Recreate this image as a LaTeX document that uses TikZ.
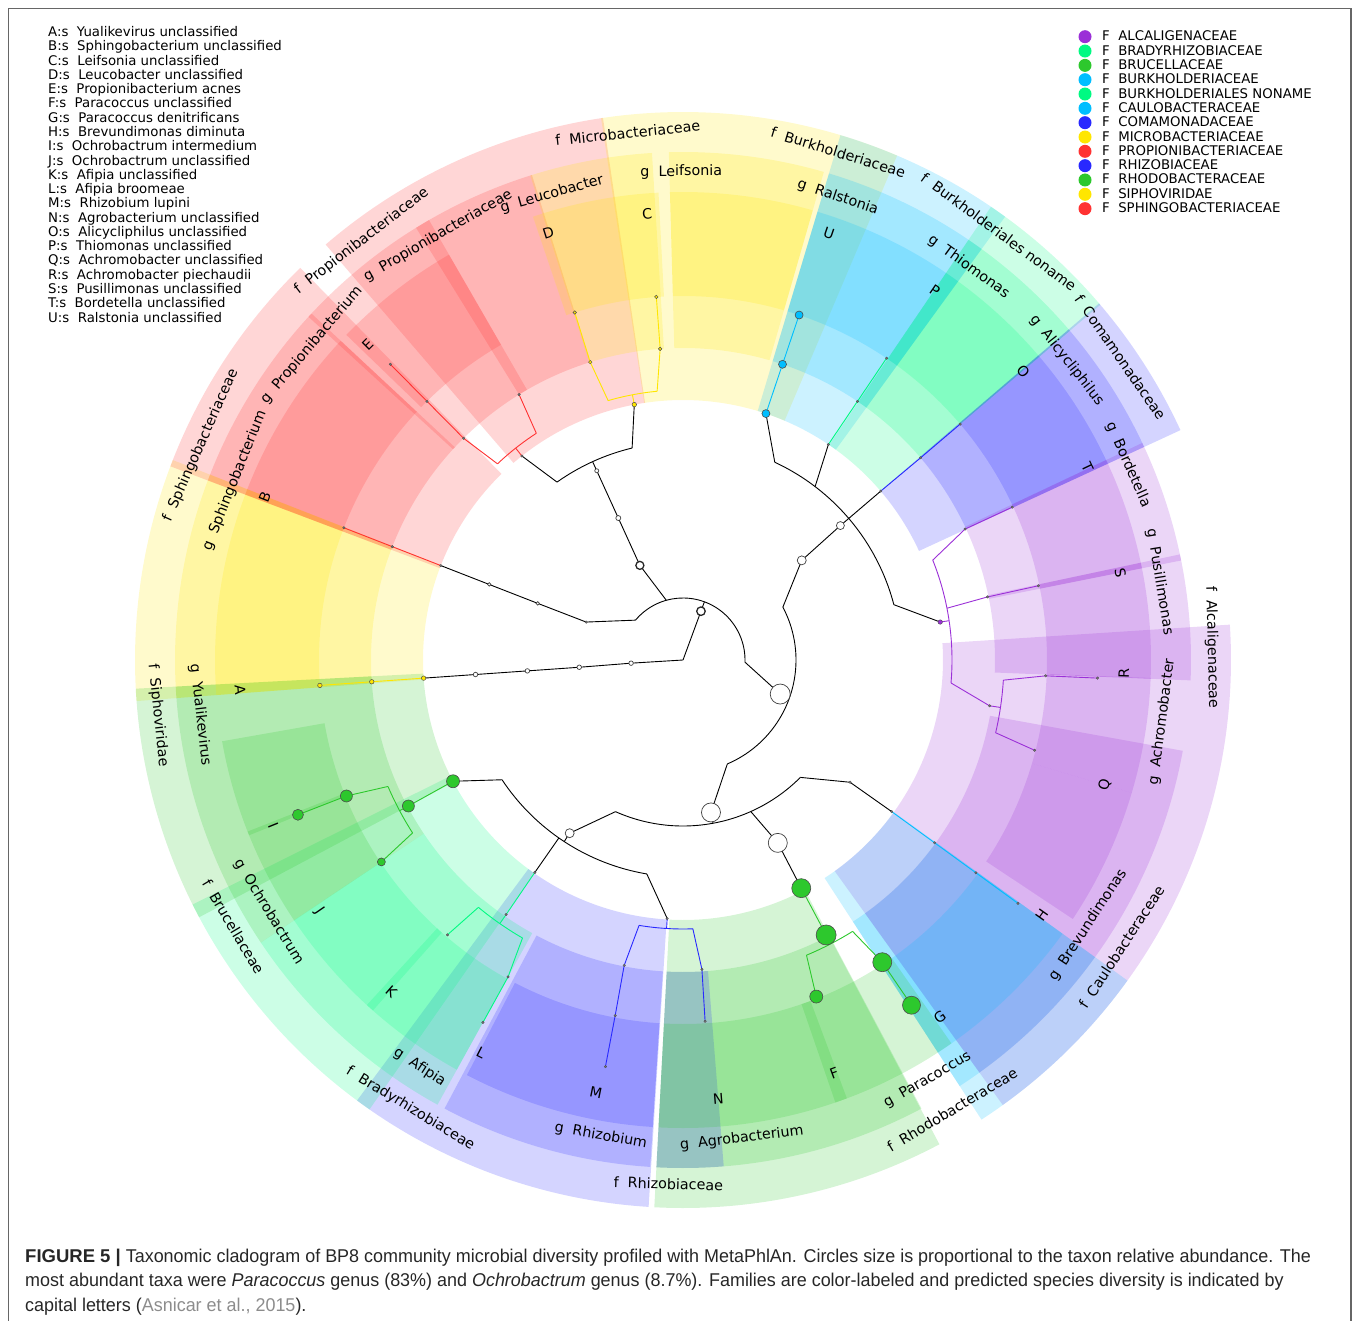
\documentclass[tikz,border=0pt]{standalone}
\usepackage{fontspec}
\setmainfont{DejaVu Sans}
\newfontfamily\capfont[FakeStretch=0.97]{Liberation Sans}
\newfontfamily\capbold{Liberation Sans Bold}
\pgfdeclarelayer{wedges}
\pgfdeclarelayer{lines}
\pgfsetlayers{wedges,lines,main}
\definecolor{cR}{RGB}{255,50,50}
\definecolor{cY}{RGB}{255,230,0}
\definecolor{cG}{RGB}{45,200,45}
\definecolor{cM}{RGB}{0,250,130}
\definecolor{cC}{RGB}{0,190,255}
\definecolor{cB}{RGB}{40,40,255}
\definecolor{cP}{RGB}{155,48,215}
\newcommand\wdg[5]{\fill[#1,fill opacity=0.2] (#4:#2pt) arc[start angle=#4,end angle=#5,radius=#2pt] -- (#5:#3pt) arc[start angle=#5,end angle=#4,radius=#3pt] -- cycle;}
\newcommand\fw[3]{\wdg{#1}{260}{548}{#2}{#3}}
\newcommand\gw[3]{\wdg{#1}{312}{508}{#2}{#3}}
\newcommand\sw[3]{\wdg{#1}{364}{468}{#2}{#3}}
\newcommand\rlab[4]{\node[lbl] (#1) at (#2:#3pt) [rotate={ifthenelse(#2>0,#2-90,#2+90)}] {#4};}
\begin{document}
\begin{tikzpicture}[x=1pt,y=1pt,
  lbl/.style={font=\fontsize{14.3}{16}\selectfont, inner sep=0pt},
  br/.style={line width=0.9pt},
  wc/.style={circle,draw=black!75,fill=white,inner sep=0pt,line width=0.7pt,minimum size=#1},
  wct/.style={circle,draw=black!85,fill=white,inner sep=0pt,line width=1.3pt,minimum size=#1},
  td/.style={circle,draw=black!70,fill=black!55,inner sep=0pt,line width=0.3pt,minimum size=2.6pt},
  yd/.style={circle,draw=black!70,fill=cY,inner sep=0pt,line width=0.5pt,minimum size=#1},
  cd/.style={circle,draw=black!70,fill=cC,inner sep=0pt,line width=0.6pt,minimum size=#1},
  gd/.style={circle,draw=black!70,fill=cG,inner sep=0pt,line width=0.6pt,minimum size=#1},
  pd/.style={circle,draw=black!70,fill=cP,inner sep=0pt,line width=0.4pt,minimum size=#1},
  legtxt/.style={anchor=base west,inner sep=0pt,font=\fontsize{13.3}{15}\selectfont},
  captxt/.style={anchor=base west,inner sep=0pt,font=\capfont\fontsize{18.5}{22}\selectfont,text=black!85}]
\useasboundingbox (0,0) rectangle (1358,-1321);
\draw[black!60,line width=1.2pt] (8.5,-1322) -- (8.5,-8.5) -- (1351,-8.5) -- (1351,-1322);

\begin{scope}[shift={(683,-660)}]
\begin{pgfonlayer}{wedges}
% families
\fw{cY}{158.6}{184.3}
\fw{cR}{134.3}{159.3}
\fw{cR}{98.4}{130.7}
\fw{cY}{67}{98.6}
\fw{cC}{54}{73.3}
\fw{cM}{40.4}{55.8}
\fw{cB}{24.8}{40.6}
\fw{cP}{-54.3}{3.7}
\fw{cC}{-57}{-35.8}
\fw{cG}{-93}{-62.1}
\fw{cB}{-126.5}{-93.6}
\fw{cM}{-153.5}{-124.9}
\fw{cG}{-177}{-152}
% genera
\gw{cY}{158.6}{184.3}
\gw{cR}{137}{159.3}
\gw{cR}{120}{137.5}
\gw{cR}{107.3}{121.7}
\gw{cY}{93.5}{107.5}
\gw{cY}{73.9}{91.6}
\gw{cC}{54}{73.3}
\gw{cM}{40.4}{55.8}
\gw{cB}{24.8}{40.6}
\gw{cP}{11.3}{25.3}
\gw{cP}{-2.3}{12}
\gw{cP}{-54.3}{-10.3}
\gw{cC}{-57}{-35.8}
\gw{cG}{-93}{-62}
\gw{cB}{-93}{-85.4}
\gw{cB}{-118}{-93.7}
\gw{cM}{-146.2}{-118.9}
\gw{cG}{-177}{-146.2}
% species
\sw{cY}{158.6}{184.3}
\sw{cR}{137}{159.3}
\sw{cR}{120}{136}
\sw{cY}{93}{108.7}
\sw{cY}{73.9}{91.6}
\sw{cC}{54}{73.3}
\sw{cM}{40.4}{55.8}
\sw{cB}{24.8}{40.6}
\sw{cP}{11.3}{25.3}
\sw{cP}{-2.3}{12}
\sw{cP}{-16.5}{-2.2}
\sw{cP}{-33.6}{-16.5}
\sw{cC}{-57}{-35.8}
\sw{cG}{-71}{-55}
\sw{cG}{-93}{-69.5}
\sw{cB}{-117.5}{-93.7}
\sw{cM}{-132.5}{-118.9}
\sw{cM}{-146.2}{-131.5}
\sw{cG}{-158.5}{-146.2}
\sw{cG}{-170}{-158}
\end{pgfonlayer}

% ---------- tree nodes ----------
\coordinate (root) at (0,0);
\node[wc=4.5pt] (kV) at (183.5:52pt) {};
\node[wct=8.5pt] (kB) at (69.8:52pt) {};
\node[wc=4.5pt] (pV) at (184:104pt) {};
\node[wc=4.5pt] (cV) at (184:156pt) {};
\node[wc=4.5pt] (oV) at (184:208pt) {};
\node[yd=4.5pt] (fV) at (184:260pt) {};
\node[yd=4.5pt] (gV) at (184:312pt) {};
\node[yd=4.5pt] (sAn) at (184:364pt) {};
\node[td] (pBd) at (158.6:104pt) {};
\node[wc=3.5pt] (cBd) at (158.7:156pt) {};
\node[wc=3.5pt] (oBd) at (158.7:208pt) {};
\node[td] (fSb) at (158.7:260pt) {};
\node[td] (gSb) at (158.7:312pt) {};
\node[td] (sBn) at (158.7:364pt) {};
\node[wct=8pt] (pAc) at (114.5:104pt) {};
\node[wc=5pt] (cAc) at (114.5:156pt) {};
\node[wc=4pt] (oAc) at (114.5:208pt) {};
\node[td] (fPr) at (128.3:260pt) {};
\node[td] (gPb) at (134.7:312pt) {};
\node[td] (sEn) at (134.7:364pt) {};
\node[td] (tEn) at (134.7:416pt) {};
\node[td] (gPu) at (121.7:312pt) {};
\node[yd=4.5pt] (fMi) at (100.8:260pt) {};
\node[yd=3.5pt] (gLe) at (107.3:312pt) {};
\node[yd=3.5pt] (sDn) at (107.3:364pt) {};
\node[yd=3.5pt] (gLf) at (94.2:312pt) {};
\node[yd=3.5pt] (sCn) at (94.2:364pt) {};
\node[wc=20pt] (pPr) at (-19.3:103pt) {};
\node[wc=9pt] (cBe) at (40:155pt) {};
\node[wc=8pt] (oBk) at (40.5:207pt) {};
\node[cd=8pt] (fBk) at (71.4:260pt) {};
\node[cd=8pt] (gRa) at (71.4:312pt) {};
\node[cd=8pt] (sUn) at (71.4:364pt) {};
\node[td] (fBn) at (56:260pt) {};
\node[td] (gTh) at (56:312pt) {};
\node[td] (sPn) at (56:364pt) {};
\node[td] (fCm) at (40.5:260pt) {};
\node[td] (gAy) at (40.4:312pt) {};
\node[td] (sOn) at (40.4:364pt) {};
\node[pd=4.5pt] (fAl) at (8.4:260pt) {};
\node[td] (gBo) at (24.9:311pt) {};
\node[td] (sTn) at (24.9:363pt) {};
\node[td] (gPs) at (11.7:311pt) {};
\node[td] (sSn) at (11.8:363pt) {};
\node[td] (gAh) at (-8.5:310pt) {};
\node[td] (sRn) at (-2.5:363pt) {};
\node[td] (tRn) at (-2.5:415pt) {};
\node[td] (sQn) at (-14.4:363pt) {};
\node[wc=19pt] (cAp) at (-79.6:155pt) {};
\node[td] (oCa) at (-36.2:207pt) {};
\node[td] (fCa) at (-36:258pt) {};
\node[td] (gBv) at (-36:311pt) {};
\node[td] (sHn) at (-36:362pt) {};
\node[td] (tHn) at (-36:414pt) {};
\node[wc=19pt] (oRb) at (-62.6:206pt) {};
\node[gd=19pt] (fRb) at (-62.6:257pt) {};
\node[gd=20pt] (gPa) at (-62.5:310pt) {};
\node[gd=19pt] (sGn) at (-56.6:362pt) {};
\node[gd=18pt] (tGn) at (-56.5:414pt) {};
\node[gd=13pt] (sFn) at (-68.4:362pt) {};
\node[wc=9pt] (oRz) at (-123.2:207pt) {};
\node[gd=13pt] (fBr) at (-152.2:260pt) {};
\node[gd=12pt] (gOc) at (-152:311pt) {};
\node[gd=12pt] (sIn) at (-158:363pt) {};
\node[gd=11pt] (tIn) at (-158.1:415pt) {};
\node[gd=8pt] (sJn) at (-146.2:363pt) {};
\node[td] (fBy) at (-124.9:259pt) {};
\node[td] (gAf) at (-124.8:310pt) {};
\node[td] (sKn) at (-130.6:362pt) {};
\node[td] (sLn) at (-118.9:362pt) {};
\node[td] (tLn) at (-118.9:414pt) {};
\node[td] (fRz) at (-93.5:259pt) {};
\node[td] (gRz) at (-100.9:311pt) {};
\node[td] (sMn) at (-100.8:362pt) {};
\node[td] (tMn) at (-100.8:414pt) {};
\node[td] (gAg) at (-86.5:310pt) {};
\node[td] (sNn) at (-86.5:362pt) {};

% bracket points
\coordinate (bB0) at (69.8:62pt);   \coordinate (bB1) at (140:62pt);
\coordinate (bB2) at (105.6:62pt);  \coordinate (bB3) at (-2:62pt);
\coordinate (bA0) at (114.5:218pt); \coordinate (bA1) at (125.3:218pt); \coordinate (bA2) at (103.5:218pt);
\coordinate (bP0) at (128.3:270pt); \coordinate (bP1) at (133.4:270pt); \coordinate (bP2) at (122.9:270pt);
\coordinate (bM0) at (100.8:270pt); \coordinate (bM1) at (106.1:270pt); \coordinate (bM2) at (95.5:270pt);
\coordinate (bQ0) at (-19.3:113pt); \coordinate (bQ1) at (27.9:113pt); \coordinate (bQ2) at (-66.9:113pt);
\coordinate (bK0) at (40.5:218pt);  \coordinate (bK1) at (65.1:218pt); \coordinate (bK2) at (52.7:218pt); \coordinate (bK4) at (14.7:218pt);
\coordinate (bL0) at (8.4:269pt);   \coordinate (bL1) at (21.8:269pt); \coordinate (bL2) at (11.1:269pt); \coordinate (bL3) at (-4.9:269pt);
\coordinate (bR0) at (-8.5:321pt);  \coordinate (bR1) at (-3.6:321pt); \coordinate (bR2) at (-13.1:321pt);
\coordinate (bX0) at (-79.6:166pt); \coordinate (bX1) at (-45:166pt); \coordinate (bX2) at (-65.9:166pt); \coordinate (bX3) at (-114:166pt);
\coordinate (bG0) at (-62.5:320pt); \coordinate (bG1) at (-58:320pt); \coordinate (bG2) at (-67.3:320pt);
\coordinate (bZ0) at (-123.2:217pt);\coordinate (bZ1) at (-146.5:217pt); \coordinate (bZ2) at (-124.9:217pt); \coordinate (bZ3) at (-99.6:217pt);
\coordinate (bO0) at (-152:321pt);  \coordinate (bO1) at (-147.4:321pt); \coordinate (bO2) at (-156.8:321pt);
\coordinate (bY0) at (-124.8:321pt);\coordinate (bY1) at (-120:321pt); \coordinate (bY2) at (-129.6:321pt);
\coordinate (bW0) at (-93.5:269pt); \coordinate (bW1) at (-87.9:269pt); \coordinate (bW2) at (-99.4:269pt);

\begin{pgfonlayer}{lines}
\draw[br] (root) -- (kV.center) -- (pV.center) -- (cV.center) -- (oV.center) -- (fV.center);
\draw[br,cY] (fV.center) -- (gV.center) -- (sAn.center);
\draw[br] (root) -- (kB.center) -- (bB0);
\draw[br] (bB1) arc[start angle=140,end angle=-2,radius=62pt];
\draw[br] (bB1) -- (pBd.center) -- (cBd.center) -- (oBd.center) -- (fSb.center);
\draw[br,cR] (fSb.center) -- (gSb.center) -- (sBn.center);
\draw[br] (bB2) -- (pAc.center) -- (cAc.center) -- (oAc.center) -- (bA0);
\draw[br] (bA1) arc[start angle=125.3,end angle=103.5,radius=218pt];
\draw[br] (bA1) -- (fPr.center);
\draw[br] (bA2) -- (fMi.center);
\draw[br,cR] (fPr.center) -- (bP0);
\draw[br,cR] (bP1) arc[start angle=133.4,end angle=122.9,radius=270pt];
\draw[br,cR] (bP1) -- (gPb.center) -- (sEn.center) -- (tEn.center);
\draw[br,cR] (bP2) -- (gPu.center);
\draw[br,cY] (fMi.center) -- (bM0);
\draw[br,cY] (bM1) arc[start angle=106.1,end angle=95.5,radius=270pt];
\draw[br,cY] (bM1) -- (gLe.center) -- (sDn.center);
\draw[br,cY] (bM2) -- (gLf.center) -- (sCn.center);
\draw[br] (bB3) -- (pPr.center) -- (bQ0);
\draw[br] (bQ1) arc[start angle=27.9,end angle=-66.9,radius=113pt];
\draw[br] (bQ1) -- (cBe.center) -- (oBk.center) -- (bK0);
\draw[br] (bK1) arc[start angle=65.1,end angle=14.7,radius=218pt];
\draw[br] (bK1) -- (fBk.center);
\draw[br] (bK2) -- (fBn.center);
\draw[br] (bK0) -- (fCm.center);
\draw[br] (bK4) -- (fAl.center);
\draw[br,cC] (fBk.center) -- (gRa.center) -- (sUn.center);
\draw[br,cM] (fBn.center) -- (gTh.center) -- (sPn.center);
\draw[br,cB] (fCm.center) -- (gAy.center) -- (sOn.center);
\draw[br,cP] (fAl.center) -- (bL0);
\draw[br,cP] (bL1) arc[start angle=21.8,end angle=-4.9,radius=269pt];
\draw[br,cP] (bL1) -- (gBo.center) -- (sTn.center);
\draw[br,cP] (bL2) -- (gPs.center) -- (sSn.center);
\draw[br,cP] (bL3) -- (gAh.center) -- (bR0);
\draw[br,cP] (bR1) arc[start angle=-3.6,end angle=-13.1,radius=321pt];
\draw[br,cP] (bR1) -- (sRn.center) -- (tRn.center);
\draw[br,cP] (bR2) -- (sQn.center);
\draw[br] (bQ2) -- (cAp.center) -- (bX0);
\draw[br] (bX1) arc[start angle=-45,end angle=-114,radius=166pt];
\draw[br] (bX1) -- (oCa.center) -- (fCa.center);
\draw[br,cC] (fCa.center) -- (gBv.center) -- (sHn.center) -- (tHn.center);
\draw[br] (bX2) -- (oRb.center) -- (fRb.center);
\draw[br,cG] (fRb.center) -- (gPa.center) -- (bG0);
\draw[br,cG] (bG1) arc[start angle=-58,end angle=-67.3,radius=320pt];
\draw[br,cG] (bG1) -- (sGn.center) -- (tGn.center);
\draw[br,cG] (bG2) -- (sFn.center);
\draw[br] (bX3) -- (oRz.center) -- (bZ0);
\draw[br] (bZ1) arc[start angle=-146.5,end angle=-99.6,radius=217pt];
\draw[br] (bZ1) -- (fBr.center);
\draw[br] (bZ2) -- (fBy.center);
\draw[br] (bZ3) -- (fRz.center);
\draw[br,cG] (fBr.center) -- (gOc.center) -- (bO0);
\draw[br,cG] (bO1) arc[start angle=-147.4,end angle=-156.8,radius=321pt];
\draw[br,cG] (bO2) -- (sIn.center) -- (tIn.center);
\draw[br,cG] (bO1) -- (sJn.center);
\draw[br,cM] (fBy.center) -- (gAf.center) -- (bY0);
\draw[br,cM] (bY1) arc[start angle=-120,end angle=-129.6,radius=321pt];
\draw[br,cM] (bY2) -- (sKn.center);
\draw[br,cM] (bY1) -- (sLn.center) -- (tLn.center);
\draw[br,cB] (fRz.center) -- (bW0);
\draw[br,cB] (bW1) arc[start angle=-87.9,end angle=-99.4,radius=269pt];
\draw[br,cB] (bW2) -- (gRz.center) -- (sMn.center) -- (tMn.center);
\draw[br,cB] (bW1) -- (gAg.center) -- (sNn.center);
\end{pgfonlayer}

% ---------- species letters ----------
\rlab{lA}{-176.1}{444}{A}
\rlab{lB}{158.7}{449}{B}
\rlab{lE}{135}{446}{E}
\rlab{lD}{107.5}{448}{D}
\rlab{lC}{94.6}{448}{C}
\rlab{lU}{71.1}{451}{U}
\rlab{lP}{55.7}{447}{P}
\rlab{lO}{40.3}{446}{O}
\rlab{lT}{25.5}{448}{T}
\rlab{lS}{11.3}{446}{S}
\rlab{lR}{-1.7}{441}{R}
\rlab{lQ}{-16.5}{440}{Q}
\rlab{lH}{-35.4}{440}{H}
\rlab{lG}{-54.3}{440}{G}
\rlab{lF}{-69.9}{440}{F}
\rlab{lN}{-85.4}{440}{N}
\rlab{lM}{-101.4}{441}{M}
\rlab{lL}{-117.2}{442}{L}
\rlab{lK}{-131.3}{442}{K}
\rlab{lJ}{-145.4}{442}{J}
\rlab{lI}{-158}{442}{I}
% ---------- genus labels ----------
\rlab{gl1}{-173.5}{486}{g\ \ Yualikevirus}
\rlab{gl2}{158.2}{483}{g\ \ Sphingobacterium}
\rlab{gl3}{139.7}{487}{g\ \ Propionibacterium}
\rlab{gl4}{120}{490}{g\ \ Propionibacteriaceae}
\rlab{gl5}{105.7}{484}{g\ \ Leucobacter}
\rlab{gl6}{90.2}{488}{g\ \ Leifsonia}
\rlab{gl7}{71.5}{488}{g\ \ Ralstonia}
\rlab{gl8}{54}{486}{g\ \ Thiomonas}
\rlab{gl9}{38}{487}{g\ \ Alicycliphilus}
\rlab{gl10}{23.7}{486}{g\ \ Bordetella}
\rlab{gl11}{9.3}{483}{g\ \ Pusillimonas}
\rlab{gl12}{-7.4}{483}{g\ \ Achromobacter}
\rlab{gl13}{-33.2}{484}{g\ \ Brevundimonas}
\rlab{gl14}{-59.8}{486}{g\ \ Paracoccus}
\rlab{gl15}{-83}{482}{g\ \ Agrobacterium}
\rlab{gl16}{-99.8}{483}{g\ \ Rhizobium}
\rlab{gl17}{-122.9}{485}{g\ \ Afipia}
\rlab{gl18}{-148.7}{485}{g\ \ Ochrobactrum}
% ---------- family labels ----------
\rlab{fl1}{-174}{528}{f\ \ Siphoviridae}
\rlab{fl2}{156}{528}{f\ \ Sphingobacteriaceae}
\rlab{fl3}{127.5}{528}{f\ \ Propionibacteriaceae}
\rlab{fl4}{96}{530}{f\ \ Microbacteriaceae}
\rlab{fl5}{73}{531}{f\ \ Burkholderiaceae}
\rlab{fl6}{53.6}{532}{f\ \ Burkholderiales noname}
\rlab{fl7}{34.7}{532}{f\ \ Comamonadaceae}
\rlab{fl8}{1.4}{529}{f\ \ Alcaligenaceae}
\rlab{fl9}{-33.2}{524}{f\ \ Caulobacteraceae}
\rlab{fl10}{-59.1}{524}{f\ \ Rhodobacteraceae}
\rlab{fl11}{-91.6}{524}{f\ \ Rhizobiaceae}
\rlab{fl12}{-121.3}{525}{f\ \ Bradyrhizobiaceae}
\rlab{fl13}{-149.3}{523}{f\ \ Brucellaceae}
\end{scope}

% ---------- left legend ----------
\foreach \t [count=\i from 0] in {A:s\ \ Yualikevirus unclassified,B:s\ \ Sphingobacterium unclassified,C:s\ \ Leifsonia unclassified,D:s\ \ Leucobacter unclassified,E:s\ \ Propionibacterium acnes,F:s\ \ Paracoccus unclassified,G:s\ \ Paracoccus denitrificans,H:s\ \ Brevundimonas diminuta,I:s\ \ Ochrobactrum intermedium,J:s\ \ Ochrobactrum unclassified,K:s\ \ Afipia unclassified,L:s\ \ Afipia broomeae,M:s\ \ Rhizobium lupini,N:s\ \ Agrobacterium unclassified,O:s\ \ Alicycliphilus unclassified,P:s\ \ Thiomonas unclassified,Q:s\ \ Achromobacter unclassified,R:s\ \ Achromobacter piechaudii,S:s\ \ Pusillimonas unclassified,T:s\ \ Bordetella unclassified,U:s\ \ Ralstonia unclassified}
  {\node[legtxt] (leg\i) at (48,-36.5-14.28*\i) {\t};}

% ---------- right legend ----------
\foreach \c/\t [count=\i from 0] in {cP/ALCALIGENACEAE,cM/BRADYRHIZOBIACEAE,cG/BRUCELLACEAE,cC/BURKHOLDERIACEAE,cM/BURKHOLDERIALES NONAME,cC/CAULOBACTERACEAE,cB/COMAMONADACEAE,cY/MICROBACTERIACEAE,cR/PROPIONIBACTERIACEAE,cB/RHIZOBIACEAE,cG/RHODOBACTERACEAE,cY/SIPHOVIRIDAE,cR/SPHINGOBACTERIACEAE}
  {\node[circle,fill=\c,inner sep=0pt,minimum size=13pt] (rc\i) at (1085,-36.7-14.33*\i) {};
   \node[legtxt] (rl\i) at (1102,-40.7-14.33*\i) {F\ \ \t};}

% ---------- caption ----------
\node[captxt] (cap1) at (25,-1262) {{\capbold FIGURE 5 |} Taxonomic cladogram of BP8 community microbial diversity profiled with MetaPhlAn. Circles size is proportional to the taxon relative abundance. The};
\node[captxt] (cap2) at (25,-1286.5) {most abundant taxa were \textit{Paracoccus} genus (83\%) and \textit{Ochrobactrum} genus (8.7\%). Families are color-labeled and predicted species diversity is indicated by};
\node[captxt] (cap3) at (25,-1311) {capital letters ({\color{black!45}Asnicar et al., 2015}).};
\end{tikzpicture}
\end{document}
